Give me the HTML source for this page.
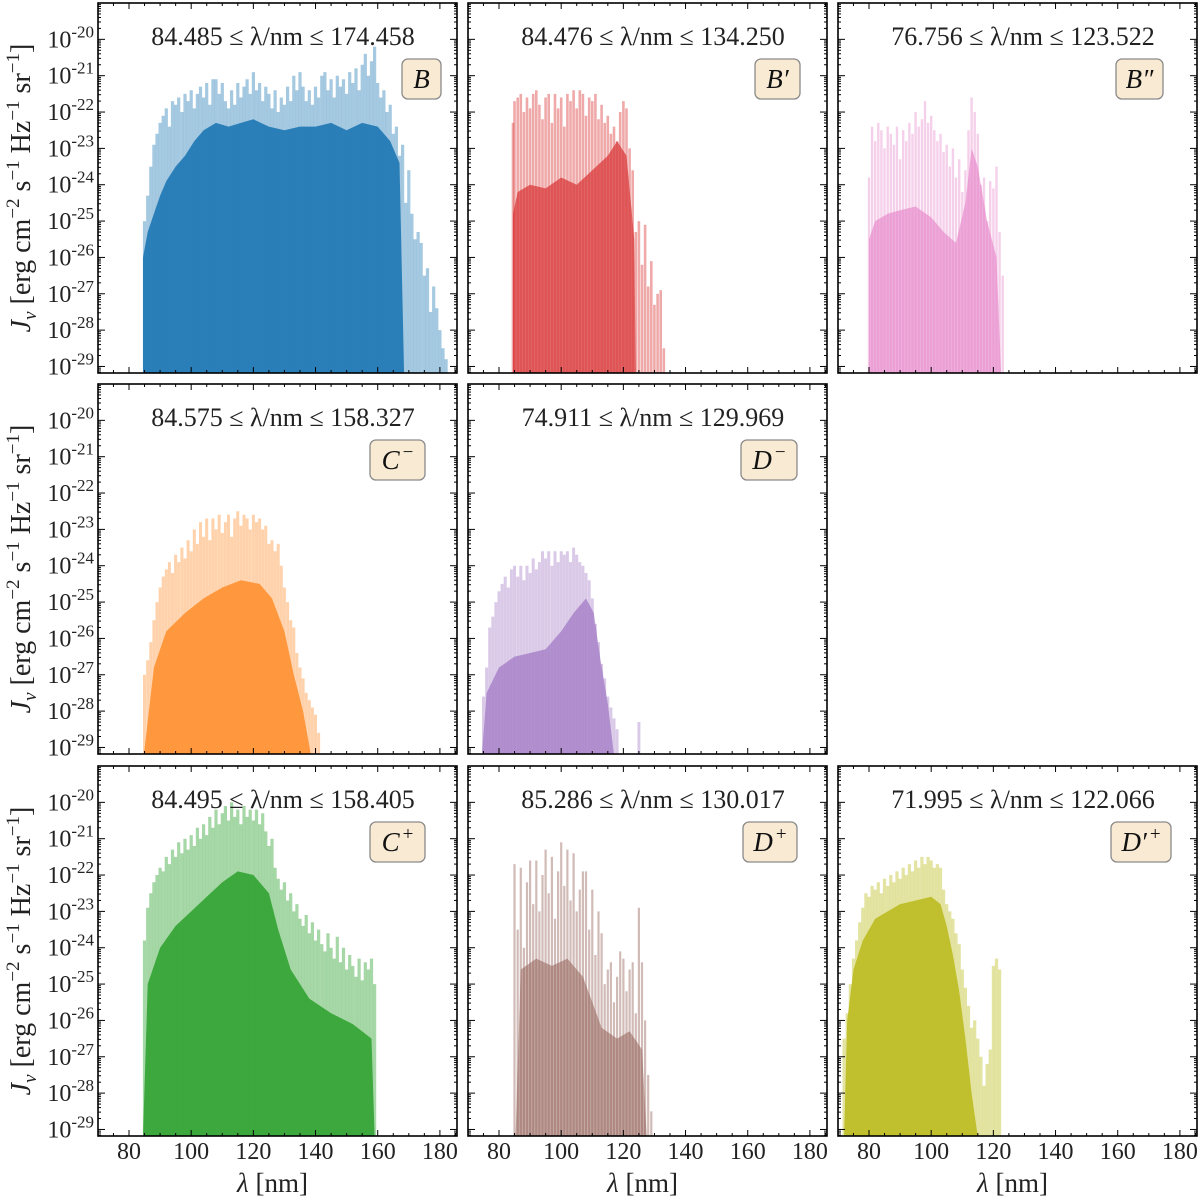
<!DOCTYPE html>
<html><head><meta charset="utf-8"><style>
html,body{margin:0;padding:0;background:#fff;}
svg{display:block;font-family:"Liberation Serif","DejaVu Serif",serif;}
</style></head><body>
<svg id="fig" width="1200" height="1199" viewBox="0 0 1200 1199" xmlns="http://www.w3.org/2000/svg"></svg>
<script>
// ---------- data (log10 J_nu) ----------
const lamB=[85,86,87,88,89,90,91,92,93,94,95,96,97,98,99,100,101,102,103,104,105,106,107,108,109,110,111,112,113,114,115,116,117,118,119,120,121,122,123,124,125,126,127,128,129,130,131,132,133,134,135,136,137,138,139,140,141,142,143,144,145,146,147,148,149,150,151,152,153,154,155,156,157,158,159,160,161,162,163,164,165,166,167,168,169,170,171,172,173,174,175,176,177,178,179,180,181,182];
const jB=[-25.0,-24.3,-23.5,-22.9,-22.6,-22.3,-22.1,-21.9,-22.4,-21.7,-21.8,-21.6,-22.0,-21.5,-21.7,-21.4,-21.9,-21.5,-21.3,-21.6,-21.2,-21.8,-21.1,-21.1,-21.5,-21.2,-21.7,-21.9,-21.4,-21.8,-21.2,-21.6,-21.3,-21.1,-21.5,-20.9,-21.4,-21.2,-21.7,-21.3,-21.5,-21.9,-21.4,-22.0,-21.6,-21.8,-21.3,-21.7,-21.0,-21.4,-20.9,-21.3,-21.7,-21.4,-21.8,-21.3,-21.6,-21.0,-20.9,-21.4,-21.1,-21.6,-21.0,-21.3,-21.1,-21.5,-20.9,-21.2,-20.8,-21.4,-20.7,-20.4,-21.0,-20.6,-20.2,-21.2,-21.6,-21.4,-22.0,-21.8,-22.6,-22.4,-23.2,-22.9,-24.5,-23.6,-24.8,-25.5,-25.3,-25.6,-26.5,-26.3,-27.5,-26.8,-27.4,-28.0,-28.5,-28.8];
const coreLamB=[84.5,86,88,90,92,95,98,101,104,108,112,116,120,125,130,135,140,145,150,155,160,164,167,168.5];
const coreB=[-26,-25.3,-24.8,-24.3,-23.9,-23.5,-23.2,-22.8,-22.5,-22.3,-22.4,-22.3,-22.2,-22.4,-22.5,-22.4,-22.4,-22.3,-22.5,-22.3,-22.4,-22.8,-23.4,-29.2];

const lamBp=[84.5,85,86,87,88,89,90,91,92,93,94,95,96,97,98,99,100,101,102,103,104,105,106,107,108,109,110,111,112,113,114,115,116,117,118,119,120,121,122,123,124,125,126,127,128,129,130,131,132,133];
const jBp=[-22.3,-21.7,-21.6,-21.5,-22.0,-21.6,-21.9,-21.5,-21.4,-21.8,-22.2,-21.6,-21.5,-22.3,-21.5,-21.9,-21.6,-22.4,-21.5,-21.7,-21.4,-21.9,-21.4,-21.5,-22.1,-21.6,-21.7,-21.5,-22.2,-21.8,-22.3,-22.1,-22.6,-22.4,-22.8,-22.0,-21.7,-21.9,-23.0,-23.6,-25.3,-25.0,-26.2,-25.1,-26.8,-26.1,-27.3,-27.0,-26.9,-28.5];
const coreLamBp=[84.5,86,90,95,100,105,110,115,118,121,123.5,124];
const coreBp=[-24.8,-24.2,-24.0,-24.1,-23.8,-24.0,-23.6,-23.2,-22.8,-23.2,-25.5,-29.2];

const lamBpp=[80,81,82,83,84,85,86,87,88,89,90,91,92,93,94,95,96,97,98,99,100,101,102,103,104,105,106,107,108,109,110,111,112,113,114,115,116,117,118,119,120,121,122,123];
const jBpp=[-23.8,-22.4,-22.8,-22.3,-22.5,-23.0,-22.4,-22.6,-22.9,-22.4,-23.3,-22.5,-22.8,-22.3,-22.6,-22.0,-22.4,-22.2,-21.7,-22.3,-22.1,-22.5,-22.8,-22.6,-23.1,-22.9,-23.5,-23.0,-23.8,-23.3,-24.2,-23.6,-22.5,-21.6,-22.0,-22.6,-24.0,-23.8,-25.0,-23.9,-24.1,-23.5,-25.3,-26.5];
const coreLamBpp=[80,82,86,90,95,100,104,108,111,113,115,118,121,122.5];
const coreBpp=[-25.5,-25.0,-24.8,-24.7,-24.6,-24.9,-25.3,-25.6,-24.5,-23.0,-23.5,-25.0,-26.0,-29.2];

const lamCm=[85,86,87,88,89,90,91,92,93,94,95,96,97,98,99,100,101,102,103,104,105,106,107,108,109,110,111,112,113,114,115,116,117,118,119,120,121,122,123,124,125,126,127,128,129,130,131,132,133,134,135,136,137,138,139,140,141];
const jCm=[-27.0,-26.6,-26.1,-25.5,-25.0,-24.6,-24.3,-24.1,-23.9,-24.2,-23.7,-23.9,-23.5,-23.8,-23.3,-23.6,-23.0,-23.4,-22.8,-23.2,-22.7,-23.3,-22.7,-23.0,-22.6,-23.1,-22.8,-22.6,-23.2,-22.7,-22.5,-22.9,-22.6,-22.7,-23.0,-22.6,-22.8,-22.7,-23.0,-22.9,-23.4,-23.3,-23.6,-23.4,-24.0,-24.6,-25.0,-25.5,-25.7,-26.4,-26.8,-27.1,-27.5,-27.7,-27.9,-28.1,-28.6];
const coreLamCm=[84.8,88,92,98,104,110,116,122,126,130,133,136,138.5];
const coreCm=[-29.2,-26.8,-25.8,-25.3,-24.9,-24.6,-24.4,-24.5,-24.9,-25.8,-27.0,-28.0,-29.2];

const lamDm=[75,76,77,78,79,80,81,82,83,84,85,86,87,88,89,90,91,92,93,94,95,96,97,98,99,100,101,102,103,104,105,106,107,108,109,110,111,112,113,114,115,116,117,118,125];
const jDm=[-27.6,-26.8,-25.7,-25.4,-25.0,-24.7,-24.5,-24.3,-24.6,-24.1,-24.0,-24.3,-24.0,-24.4,-24.0,-24.2,-23.8,-24.1,-23.9,-23.6,-23.8,-23.6,-24.0,-23.6,-23.9,-23.6,-23.7,-23.6,-23.9,-23.5,-23.7,-23.9,-24.0,-24.2,-24.4,-24.9,-25.6,-26.1,-26.7,-27.1,-27.6,-27.9,-28.2,-28.5,-28.3];
const coreLamDm=[74.5,76,80,85,90,95,100,104,108,110.5,112.5,115,117];
const coreDm=[-29.2,-27.5,-26.8,-26.5,-26.4,-26.3,-25.8,-25.3,-24.9,-25.3,-26.5,-27.8,-29.2];

const lamCp=[85,86,87,88,89,90,91,92,93,94,95,96,97,98,99,100,101,102,103,104,105,106,107,108,109,110,111,112,113,114,115,116,117,118,119,120,121,122,123,124,125,126,127,128,129,130,131,132,133,134,135,136,137,138,139,140,141,142,143,144,145,146,147,148,149,150,151,152,153,154,155,156,157,158,159];
const jCp=[-23.8,-22.9,-22.5,-22.2,-22.0,-21.8,-21.9,-21.5,-21.7,-21.3,-21.5,-21.1,-21.4,-21.0,-21.3,-20.9,-21.2,-20.7,-21.0,-20.6,-20.9,-20.4,-20.7,-20.2,-20.6,-20.3,-20.1,-20.5,-20.0,-20.4,-20.2,-20.6,-20.1,-20.4,-20.2,-20.5,-20.2,-20.6,-20.3,-20.8,-21.2,-21.0,-21.8,-22.1,-22.4,-22.2,-22.7,-22.5,-23.0,-22.8,-23.2,-23.4,-23.1,-23.6,-23.3,-23.8,-23.5,-23.9,-24.1,-23.6,-24.0,-24.3,-23.7,-24.4,-24.0,-24.6,-24.2,-24.5,-24.8,-24.3,-24.9,-24.4,-24.6,-24.3,-25.0];
const coreLamCp=[84.5,86,90,95,100,105,110,115,120,125,128,132,138,145,152,158,159];
const coreCp=[-29.2,-25.0,-24.0,-23.4,-23.0,-22.6,-22.2,-21.9,-22.0,-22.5,-23.5,-24.6,-25.4,-25.8,-26.1,-26.5,-29.2];

const lamDp=[85,86,87,88,89,90,91,92,93,94,95,96,97,98,99,100,101,102,103,104,105,106,107,108,109,110,111,112,113,114,115,116,117,118,119,120,121,122,123,124,125,126,127,128,129];
const jDp=[-21.7,-23.5,-21.8,-24.0,-22.2,-21.6,-22.8,-21.6,-23.0,-22.0,-21.3,-22.5,-21.5,-23.2,-21.9,-21.1,-22.3,-21.3,-22.7,-21.4,-23.0,-22.4,-21.9,-21.9,-23.5,-22.4,-24.2,-23.0,-23.6,-25.0,-24.6,-24.4,-25.5,-24.8,-24.1,-24.3,-25.2,-24.6,-24.4,-25.8,-22.9,-24.4,-26.0,-27.5,-28.5];
const coreLamDp=[85.3,87,92,97,102,107,110,113,118,122,126,127.5];
const coreDp=[-29.2,-24.6,-24.3,-24.5,-24.3,-24.8,-25.5,-26.2,-26.5,-26.3,-26.8,-29.2];

const lamDpp=[72,73,74,75,76,77,78,79,80,81,82,83,84,85,86,87,88,89,90,91,92,93,94,95,96,97,98,99,100,101,102,103,104,105,106,107,108,109,110,111,112,113,114,115,116,117,118,119,120,121,122];
const jDpp=[-26.5,-25.8,-25.0,-24.3,-23.8,-23.3,-22.9,-22.5,-22.6,-22.3,-22.4,-22.2,-22.5,-22.1,-22.3,-22.0,-22.2,-21.9,-22.1,-21.8,-22.0,-21.7,-21.9,-21.6,-21.8,-21.5,-21.7,-21.5,-21.6,-21.8,-21.7,-21.8,-22.4,-22.8,-23.0,-23.2,-23.6,-23.9,-24.6,-25.1,-25.6,-26.2,-26.0,-26.5,-27.0,-27.8,-27.2,-26.8,-24.5,-24.3,-24.6];
const coreLamDpp=[72,73,75,78,82,86,90,95,100,103,105,107,109,111,113,115];
const coreDpp=[-29.2,-26.0,-24.6,-23.8,-23.2,-23.0,-22.8,-22.7,-22.6,-22.8,-23.4,-24.2,-25.2,-26.5,-28.0,-29.2];

const xTicks=[80,100,120,140,160,180];
const yTicks=[-20,-21,-22,-23,-24,-25,-26,-27,-28,-29];

// ---------- layout ----------
const NS="http://www.w3.org/2000/svg";
const svg=document.getElementById('fig');
const COLX=[98,468,838], ROWY=[3,384,766], PW=359, PH=370;
const XMIN=70.03, XMAX=185.5, YMIN=-29.18, YMAX=-19.0;
function mk(tag,attrs,parent){const e=document.createElementNS(NS,tag);for(const k in attrs)e.setAttribute(k,attrs[k]);(parent||svg).appendChild(e);return e;}

const panels=[
 {id:'b',c:0,r:0,color:'#1f77b4',lam:lamB,j:jB,cl:coreLamB,cv:coreB,co:0.9,lo:0.4,lw:3.2,title:'84.485 \u2264 \u03bb/nm \u2264 174.458',lab:'B',sup:'',bx:304,bw:39},
 {id:'b-prime',c:1,r:0,color:'#d62728',lam:lamBp,j:jBp,cl:coreLamBp,cv:coreBp,co:0.65,lo:0.4,lw:2.6,title:'84.476 \u2264 \u03bb/nm \u2264 134.250',lab:'B\u2032',sup:'',bx:287,bw:45},
 {id:'b-double-prime',c:2,r:0,color:'#e377c2',lam:lamBpp,j:jBpp,cl:coreLamBpp,cv:coreBpp,co:0.55,lo:0.35,lw:2.4,title:'76.756 \u2264 \u03bb/nm \u2264 123.522',lab:'B\u2033',sup:'',bx:278,bw:47},
 {id:'c-minus',c:0,r:1,color:'#ff7f0e',lam:lamCm,j:jCm,cl:coreLamCm,cv:coreCm,co:0.7,lo:0.35,lw:3,title:'84.575 \u2264 \u03bb/nm \u2264 158.327',lab:'C',sup:'\u2212',bx:272,bw:55},
 {id:'d-minus',c:1,r:1,color:'#9467bd',lam:lamDm,j:jDm,cl:coreLamDm,cv:coreDm,co:0.6,lo:0.35,lw:3,title:'74.911 \u2264 \u03bb/nm \u2264 129.969',lab:'D',sup:'\u2212',bx:273,bw:56},
 {id:'c-plus',c:0,r:2,color:'#2ca02c',lam:lamCp,j:jCp,cl:coreLamCp,cv:coreCp,co:0.85,lo:0.42,lw:3.2,title:'84.495 \u2264 \u03bb/nm \u2264 158.405',lab:'C',sup:'+',bx:272,bw:55},
 {id:'d-plus',c:1,r:2,color:'#8c564b',lam:lamDp,j:jDp,cl:coreLamDp,cv:coreDp,co:0.5,lo:0.4,lw:2.2,title:'85.286 \u2264 \u03bb/nm \u2264 130.017',lab:'D',sup:'+',bx:275,bw:54},
 {id:'d-prime-plus',c:2,r:2,color:'#bcbd22',lam:lamDpp,j:jDpp,cl:coreLamDpp,cv:coreDpp,co:0.9,lo:0.42,lw:3.2,title:'71.995 \u2264 \u03bb/nm \u2264 122.066',lab:'D\u2032',sup:'+',bx:273,bw:60}
];

panels.forEach(p=>{
  const x0=COLX[p.c], y0=ROWY[p.r];
  const sx=v=>x0+(v-XMIN)/(XMAX-XMIN)*PW;
  const sy=v=>y0+(YMAX-v)/(YMAX-YMIN)*PH;
  const g=mk('g',{});
  
  
  const cp=mk('clipPath',{id:'clip-'+p.id},g);
  mk('rect',{x:x0,y:y0,width:PW,height:PH},cp);
  const plot=mk('g',{'clip-path':'url(#clip-'+p.id+')'},g);
  let d='M'+sx(p.cl[0]).toFixed(1)+','+(y0+PH);
  p.cl.forEach((l,i)=>{d+=' L'+sx(l).toFixed(1)+','+sy(p.cv[i]).toFixed(1);});
  d+=' L'+sx(p.cl[p.cl.length-1]).toFixed(1)+','+(y0+PH)+' Z';
  const core=mk('path',{d:d,fill:p.color,'fill-opacity':p.co},plot);
  
  
  p.lam.forEach((l,i)=>{
    const ln=mk('line',{x1:sx(l).toFixed(1),x2:sx(l).toFixed(1),y1:y0+PH,y2:sy(p.j[i]).toFixed(1),stroke:p.color,'stroke-width':p.lw,'stroke-opacity':p.lo},plot);
    
    
  });
  const fr=mk('rect',{x:x0,y:y0,width:PW,height:PH,fill:'none',stroke:'#000','stroke-width':1.6},g);
  
  
  for(let v=70;v<=185;v+=5){
    const X=sx(v); if(X<x0+1||X>x0+PW-1)continue;
    const len=(v%20===0)?6:3;
    mk('line',{x1:X,x2:X,y1:y0+PH,y2:y0+PH-len,stroke:'#000','stroke-width':1},g);
    mk('line',{x1:X,x2:X,y1:y0,y2:y0+len,stroke:'#000','stroke-width':1},g);
  }
  for(let e=-30;e<=-19;e++){
    for(let m=1;m<10;m++){
      const v=e+Math.log10(m); if(v<YMIN||v>YMAX)continue;
      const Y=sy(v); const len=m===1?7:3;
      mk('line',{x1:x0,x2:x0+len,y1:Y,y2:Y,stroke:'#000','stroke-width':1},g);
      mk('line',{x1:x0+PW,x2:x0+PW-len,y1:Y,y2:Y,stroke:'#000','stroke-width':1},g);
    }
  }
  if(p.c===0){
    yTicks.forEach(v=>{
      const t=mk('text',{x:x0-4,y:sy(v)+8,'text-anchor':'end','font-size':24,fill:'#222'},g);
      
      
      t.appendChild(document.createTextNode('10'));
      const s=mk('tspan',{dy:-10,'font-size':17},t); s.textContent=String(v);
    });
  }
  if(p.r===2){
    xTicks.forEach(v=>{
      const t=mk('text',{x:sx(v),y:y0+PH+23,'text-anchor':'middle','font-size':24,fill:'#222'},g);
      
      
      t.textContent=v;
    });
    const xl=mk('text',{x:x0+PW/2-5,y:1192,'text-anchor':'middle','font-size':27,fill:'#222'},g);
    
    
    const a=mk('tspan',{'font-style':'italic'},xl); a.textContent='\u03bb';
    xl.appendChild(document.createTextNode(' [nm]'));
  }
  const tt=mk('text',{x:x0+185,y:y0+42,'text-anchor':'middle','font-size':26,fill:'#222'},g);
  
  
  tt.textContent=p.title;
  const bx=x0+p.bx, by=y0+56, bw=p.bw;
  const bg=mk('g',{},g);
  
  
  mk('rect',{x:bx,y:by,width:bw,height:40,rx:6,fill:'#f8ead3',stroke:'#8a8a8a','stroke-width':1.3},bg);
  const lt=mk('text',{x:bx+bw/2,y:by+29,'text-anchor':'middle','font-size':27,'font-style':'italic',fill:'#111'},bg);
  lt.textContent=p.lab;
  if(p.sup){const s=mk('tspan',{dx:3,dy:-11,'font-size':19,'font-style':'normal'},lt); s.textContent=p.sup;}
});

[3,384,766].forEach((y0,i)=>{
  const cy=y0+185, cx=30;
  const t=mk('text',{x:cx,y:cy,transform:'rotate(-90 '+cx+' '+cy+')','text-anchor':'middle','font-size':28,fill:'#222'});
  
  
  const a=mk('tspan',{'font-style':'italic'},t); a.textContent='J';
  const b=mk('tspan',{'font-style':'italic','font-size':19,dy:6},t); b.textContent='\u03bd';
  const c=mk('tspan',{dy:-6},t); c.textContent=' [erg cm';
  const s1=mk('tspan',{dy:-11,'font-size':19},t); s1.textContent='\u22122';
  const c2=mk('tspan',{dy:11},t); c2.textContent=' s';
  const s2=mk('tspan',{dy:-11,'font-size':19},t); s2.textContent='\u22121';
  const c3=mk('tspan',{dy:11},t); c3.textContent=' Hz';
  const s3=mk('tspan',{dy:-11,'font-size':19},t); s3.textContent='\u22121';
  const c4=mk('tspan',{dy:11},t); c4.textContent=' sr';
  const s4=mk('tspan',{dy:-11,'font-size':19},t); s4.textContent='\u22121';
  const c5=mk('tspan',{dy:11},t); c5.textContent=']';
});
</script>
</body></html>
